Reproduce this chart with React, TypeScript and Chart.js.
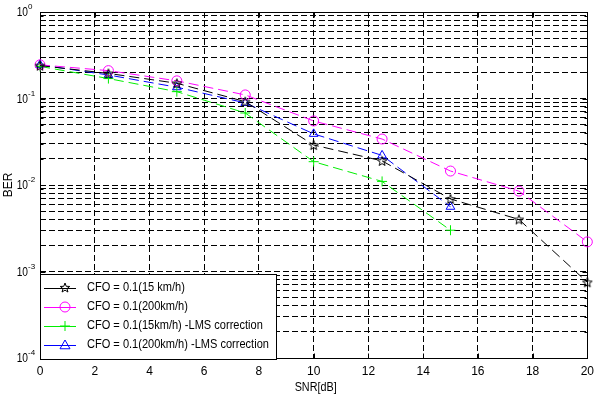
import React, { useEffect, useRef } from 'react';
import { Chart, registerables } from 'chart.js';

Chart.register(...registerables);

// ---- data ----
const snr = [0, 2.5, 5, 7.5, 10, 12.5, 15, 17.5, 20];
const ber15 = [0.24, 0.195, 0.15, 0.092, 0.029, 0.019, 0.0069, 0.004, 0.00075];
const ber200 = [0.245, 0.21, 0.16, 0.11, 0.055, 0.034, 0.0145, 0.0085, 0.0022];
const ber15Lms = [0.235, 0.17, 0.12, 0.068, 0.0186, 0.011, 0.003];
const ber200Lms = [0.245, 0.187, 0.135, 0.089, 0.039, 0.022, 0.0056];
const seriesLabels = [
  'CFO = 0.1(15 km/h)',
  'CFO = 0.1(200km/h)',
  'CFO = 0.1(15km/h) -LMS correction',
  'CFO = 0.1(200km/h) -LMS correction',
];
const xTicks = [0, 2, 4, 6, 8, 10, 12, 14, 16, 18, 20];
const yDecades = [-4, -3, -2, -1, 0];
const yMantissas = [1, 2, 3, 4, 5, 6, 7, 8, 9];
const xTitle = 'SNR[dB]';
const yTitle = 'BER';

const FONT = '"Liberation Sans", Arial, sans-serif';

function starPath(ctx: CanvasRenderingContext2D, cx: number, cy: number, R: number) {
  ctx.beginPath();
  for (let i = 0; i < 10; i++) {
    const a = -Math.PI / 2 + (i * Math.PI) / 5;
    const r = i % 2 === 0 ? R : R * 0.42;
    const px = cx + r * Math.cos(a);
    const py = cy + r * Math.sin(a);
    if (i === 0) ctx.moveTo(px, py);
    else ctx.lineTo(px, py);
  }
  ctx.closePath();
}

function makeStarCanvas(color: string) {
  const c = document.createElement('canvas');
  c.width = 12;
  c.height = 12;
  const ctx = c.getContext('2d')!;
  ctx.strokeStyle = color;
  ctx.lineWidth = 1;
  starPath(ctx, 6, 6.5, 5);
  ctx.stroke();
  return c;
}

function drawMarker(ctx: CanvasRenderingContext2D, style: string, x: number, y: number, color: string) {
  ctx.save();
  ctx.strokeStyle = color;
  ctx.lineWidth = 1;
  ctx.setLineDash([]);
  const r = 5;
  if (style === 'star') {
    starPath(ctx, x, y, 5);
    ctx.stroke();
  } else if (style === 'circle') {
    ctx.beginPath();
    ctx.arc(x, y, r, 0, Math.PI * 2);
    ctx.stroke();
  } else if (style === 'cross') {
    ctx.beginPath();
    ctx.moveTo(x - r, y);
    ctx.lineTo(x + r, y);
    ctx.moveTo(x, y - r);
    ctx.lineTo(x, y + r);
    ctx.stroke();
  } else if (style === 'triangle') {
    ctx.beginPath();
    ctx.moveTo(x, y - r);
    ctx.lineTo(x + r, y + r * 0.75);
    ctx.lineTo(x - r, y + r * 0.75);
    ctx.closePath();
    ctx.stroke();
  }
  ctx.restore();
}

const toPoints = (ys: number[]) => ys.map((y, i) => ({ x: snr[i], y }));

export default function App() {
  const ref = useRef<HTMLCanvasElement>(null);

  useEffect(() => {
    document.body.style.margin = '0';
    const colors = ['#000000', '#ff00ff', '#00ee00', '#0000ff'];
    const styles = ['star', 'circle', 'cross', 'triangle'];
    const seriesData = [ber15, ber200, ber15Lms, ber200Lms];
    const starImg = makeStarCanvas('#000000');

    const yTickValues: number[] = [];
    yDecades.forEach((e) => {
      if (e === 0) yTickValues.push(1);
      else yMantissas.forEach((m) => yTickValues.push(m * Math.pow(10, e)));
    });

    const framePlugin = {
      id: 'frame',
      beforeDatasetsDraw(chart: any) {
        const { ctx, chartArea: a } = chart;
        ctx.save();
        ctx.strokeStyle = '#000';
        ctx.lineWidth = 1;
        ctx.setLineDash([]);
        const l = Math.round(a.left) + 0.5;
        const t = Math.round(a.top) + 0.5;
        const r = Math.round(a.right) + 0.5;
        const b = Math.round(a.bottom) + 0.5;
        ctx.strokeRect(l, t, r - l, b - t);
        const xs = chart.scales.x;
        xTicks.forEach((v) => {
          const px = Math.round(xs.getPixelForValue(v)) + 0.5;
          ctx.beginPath();
          ctx.moveTo(px, b);
          ctx.lineTo(px, b - 5);
          ctx.moveTo(px, t);
          ctx.lineTo(px, t + 5);
          ctx.stroke();
        });
        const ys = chart.scales.y;
        yTickValues.forEach((v) => {
          const py = Math.round(ys.getPixelForValue(v)) + 0.5;
          const len = Math.abs(Math.log10(v) - Math.round(Math.log10(v))) < 1e-9 ? 5 : 3;
          ctx.beginPath();
          ctx.moveTo(l, py);
          ctx.lineTo(l + len, py);
          ctx.moveTo(r, py);
          ctx.lineTo(r - len, py);
          ctx.stroke();
        });
        ctx.restore();
      },
    };

    const labelsPlugin = {
      id: 'labels',
      afterDraw(chart: any) {
        const { ctx, chartArea: a } = chart;
        const ys = chart.scales.y;
        ctx.save();
        ctx.fillStyle = '#000';
        yDecades.forEach((e) => {
          const py = ys.getPixelForValue(Math.pow(10, e));
          ctx.save();
          ctx.font = `12px ${FONT}`;
          ctx.textAlign = 'right';
          ctx.textBaseline = 'middle';
          ctx.translate(28, py + 1);
          ctx.scale(0.85, 1);
          ctx.fillText('10', 0, 0);
          ctx.restore();
          ctx.font = `8px ${FONT}`;
          ctx.textAlign = 'left';
          ctx.textBaseline = 'middle';
          ctx.fillText(String(e), 28, py - 5);
        });
        ctx.font = `12px ${FONT}`;
        ctx.textAlign = 'center';
        ctx.textBaseline = 'middle';
        ctx.save();
        ctx.translate((a.left + a.right) / 2 + 2, 388);
        ctx.scale(0.9, 1);
        ctx.fillText(xTitle, 0, 0);
        ctx.restore();
        ctx.save();
        ctx.translate(9, (a.top + a.bottom) / 2);
        ctx.rotate(-Math.PI / 2);
        ctx.fillText(yTitle, 0, 0);
        ctx.restore();

        const bx = 40.5, by = 274.5, bw = 236, bh = 85;
        ctx.fillStyle = '#fff';
        ctx.fillRect(bx, by, bw, bh);
        ctx.strokeStyle = '#000';
        ctx.lineWidth = 1;
        ctx.setLineDash([]);
        ctx.strokeRect(bx, by, bw, bh);
        const rowY = [288, 307, 326, 345];
        chart.data.datasets.forEach((ds: any, i: number) => {
          const y = rowY[i];
          ctx.strokeStyle = colors[i];
          ctx.beginPath();
          ctx.moveTo(44, y + 0.5);
          ctx.lineTo(76, y + 0.5);
          ctx.stroke();
          drawMarker(ctx, styles[i], 65, y, colors[i]);
          ctx.save();
          ctx.fillStyle = '#000';
          ctx.font = `12px ${FONT}`;
          ctx.textAlign = 'left';
          ctx.textBaseline = 'middle';
          ctx.translate(87, y);
          ctx.scale(0.92, 1);
          ctx.fillText(ds.label, 0, 0);
          ctx.restore();
        });
        ctx.restore();
      },
    };

    const chart = new Chart(ref.current!, {
      type: 'line',
      data: {
        datasets: seriesData.map((arr, i) => ({
          label: seriesLabels[i],
          data: toPoints(arr),
          borderColor: colors[i],
          backgroundColor: 'transparent',
          borderWidth: 1,
          borderDash: [10, 5],
          pointStyle: (styles[i] === 'star' ? starImg : styles[i]) as any,
          pointRadius: 5,
          pointBorderColor: colors[i],
          pointBackgroundColor: 'transparent',
          pointBorderWidth: 1,
          fill: false,
          tension: 0,
          clip: false as any,
        })),
      },
      options: {
        responsive: false,
        animation: false,
        events: [],
        layout: { padding: { left: 0, right: 4, top: 12, bottom: 0 } },
        plugins: { legend: { display: false }, tooltip: { enabled: false } },
        scales: {
          x: {
            type: 'linear',
            min: 0,
            max: 20,
            afterBuildTicks: (s: any) => {
              s.ticks = xTicks.map((v) => ({ value: v }));
            },
            afterFit: (s: any) => {
              s.height = 40;
            },
            grid: { color: '#000', lineWidth: 1, drawTicks: false },
            border: { display: false, dash: [6, 3] },
            ticks: {
              color: '#000',
              font: { family: FONT, size: 12 },
              padding: 6,
              maxRotation: 0,
              autoSkip: false,
            },
          },
          y: {
            type: 'logarithmic',
            min: 1e-4,
            max: 1,
            afterBuildTicks: (s: any) => {
              s.ticks = yTickValues.map((v) => ({ value: v }));
            },
            afterFit: (s: any) => {
              s.width = 40;
            },
            grid: { color: '#000', lineWidth: 1, drawTicks: false },
            border: { display: false, dash: [6, 3] },
            ticks: { display: false },
          },
        },
      },
      plugins: [framePlugin, labelsPlugin],
    });
    return () => chart.destroy();
  }, []);

  return (
    <div style={{ width: 600, height: 398, position: 'relative', background: '#fff' }}>
      <canvas ref={ref} width={600} height={398} style={{ width: 600, height: 398, display: 'block' }} />
    </div>
  );
}
